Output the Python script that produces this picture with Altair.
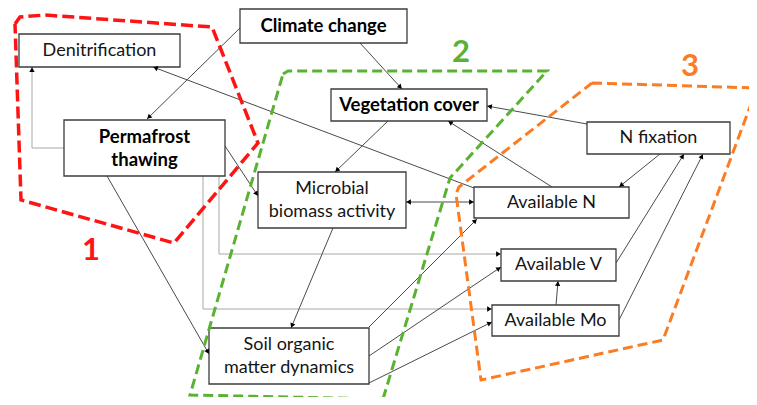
import math
import altair as alt
import pandas as pd

# ---- nodes (boxes) ----
node_label = ["Denitrification", "Climate change", "Permafrost\nthawing", "Vegetation cover",
              "N fixation", "Microbial\nbiomass activity", "Available N", "Available V",
              "Available Mo", "Soil organic\nmatter dynamics"]
node_x0 = [19, 240, 64, 331, 587, 258, 474, 501, 492, 209]
node_x1 = [180, 407, 225, 487, 730, 406, 629, 616, 619, 369]
node_y0 = [34, 9, 120, 89, 122, 172, 187, 249, 305, 328]
node_y1 = [67, 43, 176, 121, 154, 228, 218, 281, 336, 384]
node_bold = [False, True, True, True, False, False, False, False, False, False]

# ---- edges (polylines; arrow at last point, optional arrow at first) ----
edge_pts = [
    [(240, 28), (147, 119)],
    [(360, 43), (402, 89)],
    [(64, 148), (32, 148), (32, 67)],
    [(474, 188), (153, 67)],
    [(388, 121), (335, 172)],
    [(225, 146), (258, 196)],
    [(107, 176), (209, 354)],
    [(219, 176), (219, 254), (501, 254)],
    [(203, 176), (203, 309), (492, 309)],
    [(406, 202), (474, 202)],
    [(552, 187), (448, 121)],
    [(587, 124), (487, 106)],
    [(660, 154), (619, 187)],
    [(616, 263), (684, 154)],
    [(619, 320), (703, 154)],
    [(556, 305), (558, 281)],
    [(333, 228), (291, 328)],
    [(369, 327), (477, 219)],
    [(369, 356), (501, 267)],
    [(369, 383), (492, 322)],
]
edge_light = [False, False, True, False, False, False, False, True, True, False,
              False, False, False, False, False, False, False, False, False, False]
edge_both = [False] * 9 + [True] + [False] * 10

# ---- dashed group outlines ----
group_name = ["1", "2", "3"]
group_color = ["#ff1414", "#5ab233", "#fb7c22"]
group_width = [3.5, 3, 3]
group_dash = [[12, 5], [10, 5], [10, 5]]
group_pts = [
    [(15, 24), (20, 17), (45, 15), (212, 27), (258, 143), (174, 243), (21, 200), (15, 24)],
    [(283, 74), (288, 71), (547, 71), (450, 178), (383, 399), (190, 395), (283, 74)],
    [(592, 83), (757, 88), (663, 340), (481, 380), (456, 194), (459, 187), (592, 83)],
]
group_lx = [91, 461, 690]
group_ly = [251, 53, 67]

DARK = "#4a4a4a"
LIGHT = "#a8a8a8"
LINE_H = 23

# ---- build tables ----
nodes = pd.DataFrame({"label": node_label, "x0": node_x0, "x1": node_x1,
                      "y0": node_y0, "y1": node_y1, "bold": node_bold})

text_rows = []
for _, r in nodes.iterrows():
    parts = r.label.split("\n")
    cx, cy = (r.x0 + r.x1) / 2, (r.y0 + r.y1) / 2
    for k, p in enumerate(parts):
        text_rows.append({"t": p, "x": cx, "y": cy + (k - (len(parts) - 1) / 2) * LINE_H,
                          "bold": r.bold})
texts = pd.DataFrame(text_rows)

line_rows, head_rows = [], []
for i, pts in enumerate(edge_pts):
    col = LIGHT if edge_light[i] else DARK
    for k, (px, py) in enumerate(pts):
        line_rows.append({"id": i, "ord": k, "x": px, "y": py, "col": col})
    ends = [(pts[-2], pts[-1])]
    if edge_both[i]:
        ends.append((pts[1], pts[0]))
    for (ax, ay), (bx, by) in ends:
        dx, dy = bx - ax, by - ay
        L = math.hypot(dx, dy)
        ux, uy = dx / L, dy / L
        ang = math.degrees(math.atan2(dx, -dy)) % 360
        head_rows.append({"x": bx - ux * 2.6, "y": by - uy * 2.6, "ang": ang, "col": "#000000"})
lines = pd.DataFrame(line_rows)
heads = pd.DataFrame(head_rows)

labels = pd.DataFrame({"t": group_name, "x": group_lx, "y": group_ly, "col": group_color})

X = lambda f: alt.X(f, type="quantitative", scale=alt.Scale(domain=[8, 749], nice=False, zero=False), axis=None)
Y = lambda f: alt.Y(f, type="quantitative", scale=alt.Scale(domain=[8, 397], nice=False, zero=False, reverse=True), axis=None)

edge_layer = alt.Chart(lines).mark_line(strokeWidth=1).encode(
    x=X("x"), y=Y("y"), detail="id:N", order="ord:Q",
    color=alt.Color("col:N", scale=None))

box_layer = alt.Chart(nodes).mark_rect(fill="white", stroke="#3c3c3c", strokeWidth=1.3).encode(
    x=X("x0"), x2="x1", y=Y("y0"), y2="y1")

poly_layers = []
for g, pts in enumerate(group_pts):
    df = pd.DataFrame({"ord": list(range(len(pts))),
                       "x": [p[0] for p in pts], "y": [p[1] for p in pts]})
    poly_layers.append(alt.Chart(df).mark_line(
        strokeWidth=group_width[g], strokeDash=group_dash[g], color=group_color[g]).encode(
        x=X("x"), y=Y("y"), order="ord:Q"))

head_layer = alt.Chart(heads).mark_point(shape="triangle-up", filled=True, size=28, opacity=1).encode(
    x=X("x"), y=Y("y"), angle=alt.Angle("ang:Q", scale=None),
    color=alt.Color("col:N", scale=None))

text_norm = alt.Chart(texts[~texts.bold]).mark_text(
    font="Lato", fontSize=18, color="#151515", baseline="middle").encode(
    x=X("x"), y=Y("y"), text="t:N")

text_bold = alt.Chart(texts[texts.bold]).mark_text(
    font="Lato", fontSize=18.5, fontWeight="bold", color="#000000", baseline="middle").encode(
    x=X("x"), y=Y("y"), text="t:N")

num_layer = alt.Chart(labels).mark_text(
    font="Lato", fontSize=31, fontWeight="bold", baseline="middle").encode(
    x=X("x"), y=Y("y"), text="t:N", color=alt.Color("col:N", scale=None))

chart = alt.layer(edge_layer, box_layer, *poly_layers, head_layer, text_norm, text_bold, num_layer).properties(
    width=741, height=389, padding=0, background="white",
    autosize=alt.AutoSizeParams(type="none")
).configure_view(stroke=None)

chart.save("out.html", embed_options={"renderer": "svg", "actions": False})
